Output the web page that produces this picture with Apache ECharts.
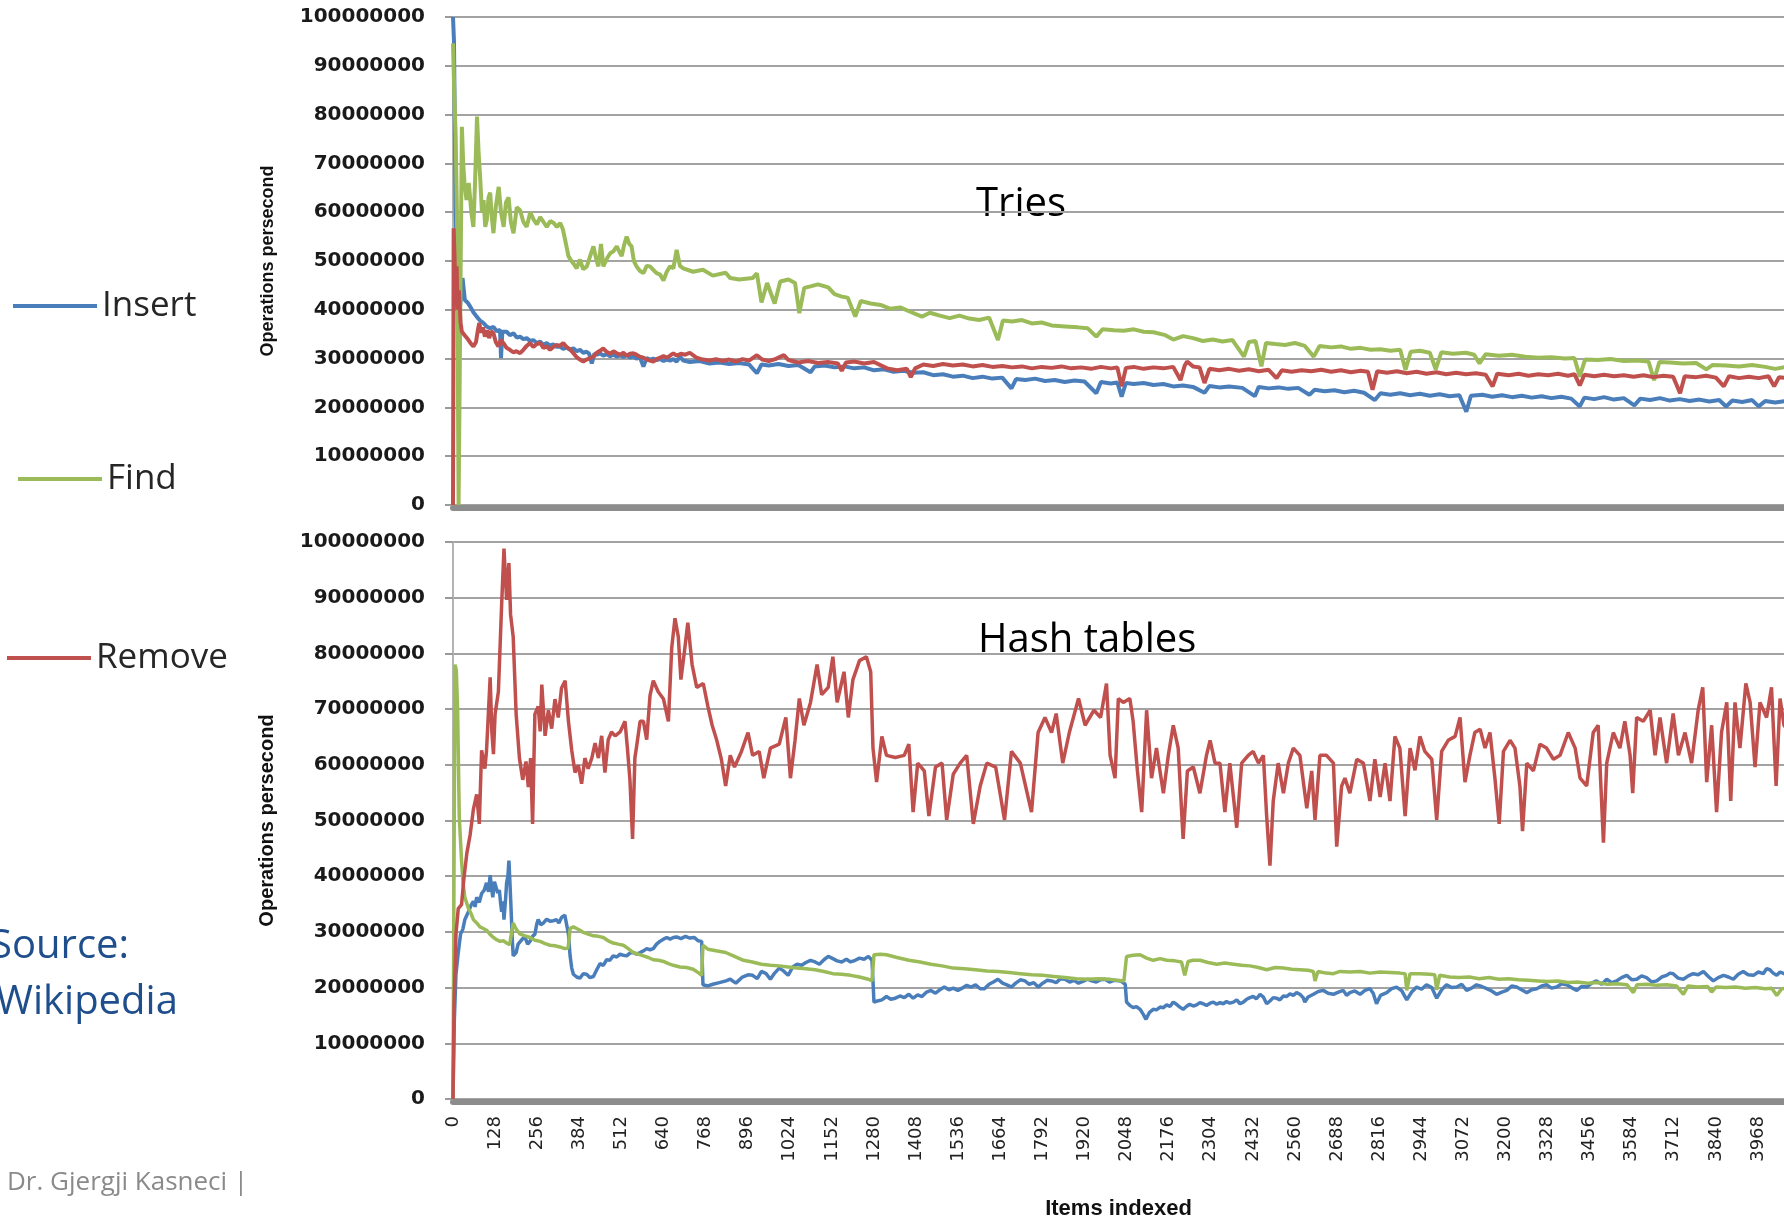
<!DOCTYPE html>
<html>
<head>
<meta charset="utf-8">
<title>Tries vs Hash tables</title>
<script src="https://cdn.jsdelivr.net/npm/echarts@6/dist/echarts.min.js"></script>
<style>
  html, body { margin: 0; padding: 0; background: #ffffff; }
  #chart { width: 1784px; height: 1221px; }
</style>
</head>
<body>
<div id="chart"></div>
<script>
// Operations per second, in millions, sampled at [items indexed, value]

const triesInsert = [[0,100],[3,95],[8,60],[14,44],[22,41],[29,46.5],[36,42],[44,41.5],[52,40.7],[62,39.5],[72,38.6],[82,37.8],[92,37.3],[102,36.6],[113,36.2],[123,36.5],[133,35.6],[143,35.9],[146,30.1],[150,35.5],[163,35.5],[173,34.8],[184,35.2],[194,34.3],[204,34.5],[214,34.0],[224,34.2],[234,33.6],[244,33.8],[255,33.2],[265,33.5],[275,32.8],[285,33.2],[295,32.6],[305,32.9],[315,32.4],[325,32.5],[335,32.0],[345,32.3],[356,31.8],[366,32.1],[376,31.5],[386,31.8],[396,31.2],[406,31.4],[414,31.0],[422,29.0],[430,31.0],[438,30.8],[447,31.1],[457,30.6],[468,30.9],[478,30.5],[488,30.8],[498,30.4],[508,30.7],[518,30.3],[528,30.8],[538,30.2],[548,30.5],[558,30.0],[568,30.3],[579,28.4],[589,30.1],[599,29.8],[609,30.0],[619,29.7],[630,29.9],[640,29.5],[650,29.8],[660,29.6],[670,29.9],[680,29.4],[690,30.4],[700,29.6],[720,29.3],[750,29.5],[780,29.0],[810,29.2],[840,28.9],[870,29.1],[900,28.8],[924,27.0],[938,28.8],[960,28.6],[990,28.9],[1020,28.5],[1050,28.7],[1087,27.2],[1100,28.4],[1130,28.6],[1160,28.2],[1190,28.4],[1220,28.0],[1250,28.2],[1280,27.6],[1310,27.8],[1340,27.3],[1370,27.5],[1400,27.1],[1430,27.2],[1460,26.6],[1490,26.8],[1520,26.3],[1550,26.5],[1580,26.0],[1610,26.3],[1640,25.9],[1670,26.1],[1698,23.9],[1712,25.8],[1740,25.6],[1770,25.9],[1800,25.4],[1830,25.6],[1860,25.2],[1890,25.5],[1920,25.3],[1956,22.9],[1970,25.2],[2000,24.9],[2020,25.1],[2033,22.2],[2046,25.0],[2070,24.8],[2100,25.0],[2130,24.6],[2160,24.8],[2190,24.3],[2220,24.5],[2250,24.2],[2285,23.0],[2300,24.4],[2330,24.1],[2360,24.3],[2400,24.0],[2438,22.3],[2450,24.2],[2480,23.9],[2510,24.1],[2540,23.8],[2570,24.0],[2604,22.6],[2620,23.6],[2650,23.3],[2680,23.5],[2710,23.1],[2740,23.4],[2770,23.0],[2803,21.5],[2820,22.9],[2850,22.6],[2880,22.9],[2910,22.5],[2940,22.8],[2970,22.4],[3000,22.7],[3030,22.3],[3060,22.5],[3081,19.1],[3095,22.4],[3130,22.6],[3160,22.2],[3190,22.5],[3220,22.1],[3250,22.4],[3280,22.0],[3310,22.3],[3340,21.9],[3370,22.2],[3400,21.8],[3426,20.2],[3440,22.0],[3470,21.7],[3500,22.1],[3530,21.6],[3560,21.9],[3592,20.4],[3610,21.8],[3640,21.5],[3670,21.9],[3700,21.4],[3730,21.7],[3760,21.3],[3790,21.6],[3820,21.2],[3850,21.5],[3871,20.2],[3890,21.4],[3920,21.1],[3950,21.5],[3970,20.2],[3990,21.3],[4020,21.0],[4060,21.4]];

const triesFind = [[0,94.6],[4,84],[8,76],[12,60],[17,0],[22,0],[27,77.5],[31,70],[35,66],[41,62.5],[48,66],[56,59.8],[62,57],[67,66],[73,79.6],[78,72],[83,66.6],[88,60],[93,62.5],[98,57],[103,58.5],[108,63],[113,64],[118,59],[123,55.7],[130,61],[139,65.2],[146,60],[154,57],[161,62],[169,63],[176,58],[184,55.7],[194,61],[204,60.4],[214,58],[224,57],[235,60],[245,58.5],[255,57.5],[265,59],[275,58],[285,57],[296,58.2],[306,57.8],[316,57],[326,57.8],[334,56.5],[341,54.3],[351,51],[358,50.2],[366,49.5],[376,48.5],[386,50.3],[396,48.3],[407,48.9],[417,51],[427,53],[435,50.5],[442,48.9],[450,53.5],[457,48.9],[468,50.5],[478,51.6],[488,52],[498,53],[505,52],[513,51],[520,53.2],[528,55],[536,53.5],[543,53],[550,50],[558,48.9],[568,48],[579,47.5],[589,49],[599,48.9],[609,48.2],[619,47.5],[630,47.2],[640,46],[650,47.8],[660,48.9],[670,48.5],[680,52.3],[690,49],[700,48.5],[730,47.8],[760,48.2],[790,47.0],[829,47.6],[843,46.5],[870,46.2],[911,46.5],[924,47.5],[938,41.5],[955,45.5],[978,41.3],[995,45.8],[1020,46.2],[1040,45.5],[1053,39.3],[1068,44.5],[1087,44.8],[1110,45.2],[1141,44.6],[1160,43.2],[1182,42.7],[1200,42.5],[1223,38.6],[1240,41.8],[1270,41.3],[1300,41.0],[1330,40.2],[1360,40.5],[1390,39.6],[1426,38.6],[1450,39.4],[1480,38.8],[1510,38.3],[1540,38.8],[1570,38.2],[1600,37.9],[1630,38.4],[1657,33.8],[1672,37.8],[1700,37.6],[1730,37.9],[1760,37.2],[1790,37.4],[1820,36.8],[1861,36.6],[1900,36.4],[1930,36.2],[1956,34.5],[1975,36.0],[2010,35.8],[2040,35.7],[2070,36.0],[2100,35.5],[2130,35.4],[2166,34.8],[2190,33.9],[2220,34.6],[2250,34.2],[2280,33.6],[2310,33.9],[2340,33.5],[2370,33.8],[2405,30.4],[2420,33.4],[2440,33.6],[2458,28.4],[2472,33.2],[2500,33.0],[2530,32.8],[2560,33.2],[2590,32.6],[2617,30.4],[2635,32.6],[2670,32.3],[2700,32.5],[2730,32.0],[2760,32.2],[2790,31.8],[2820,31.9],[2850,31.6],[2880,31.8],[2896,27.7],[2912,31.4],[2940,31.6],[2970,31.2],[2988,27.8],[3005,31.3],[3040,31.0],[3080,31.2],[3105,30.8],[3121,29.0],[3140,30.9],[3180,30.6],[3220,30.8],[3260,30.4],[3300,30.2],[3340,30.3],[3380,30.0],[3410,30.1],[3426,26.3],[3442,29.8],[3480,29.7],[3520,29.9],[3560,29.5],[3600,29.6],[3635,29.4],[3652,25.6],[3668,29.3],[3700,29.2],[3740,29.0],[3780,29.1],[3811,27.8],[3830,28.7],[3870,28.6],[3910,28.4],[3950,28.7],[3990,28.3],[4020,27.9],[4060,28.4]];

const triesRemove = [[0,0],[2,56.7],[5,50],[8,42],[11,48.9],[14,40],[18,44],[23,37.3],[27,35.5],[31,35.9],[39,34.5],[47,33.8],[55,33.0],[62,32.5],[70,33.4],[76,36],[80,37.3],[85,35.3],[91,36.4],[97,34.5],[104,35.8],[110,34.2],[116,35.6],[123,35.2],[130,33.4],[138,32.5],[145,33.8],[153,33.2],[163,32.2],[173,31.8],[183,31.3],[193,31.5],[204,31.1],[214,31.8],[224,32.6],[234,33.2],[244,32.4],[255,33.0],[265,33.2],[275,32.2],[285,32.5],[295,31.8],[305,32.4],[315,32.8],[325,32.6],[335,33.2],[345,32.4],[356,31.9],[366,31.1],[376,30.3],[386,29.8],[396,29.4],[406,29.8],[417,30.1],[427,30.4],[437,31.2],[447,31.6],[457,32.1],[467,31.4],[478,31.0],[488,31.5],[498,31.1],[508,30.8],[518,31.2],[528,30.6],[538,31.0],[548,31.1],[558,30.8],[568,30.4],[579,30.2],[589,29.8],[599,29.6],[609,29.4],[619,29.9],[630,30.2],[640,30.5],[650,30.2],[660,30.6],[670,31.1],[680,30.6],[693,31.0],[706,30.8],[720,31.2],[740,30.2],[760,29.8],[780,29.6],[800,29.9],[820,29.5],[840,29.8],[860,29.4],[880,29.9],[900,29.6],[924,30.7],[940,29.8],[960,29.5],[980,29.9],[1006,30.7],[1020,29.7],[1050,29.2],[1080,29.5],[1110,29.1],[1140,29.3],[1170,29.0],[1182,27.5],[1195,29.2],[1220,29.4],[1250,29.0],[1280,29.3],[1320,28.0],[1350,27.6],[1380,27.9],[1392,26.2],[1405,28.0],[1430,28.8],[1460,28.5],[1490,28.9],[1520,28.6],[1550,28.8],[1580,28.4],[1610,28.7],[1640,28.3],[1670,28.5],[1700,28.2],[1730,28.4],[1760,28.0],[1790,28.3],[1820,28.1],[1850,28.4],[1880,28.0],[1910,28.2],[1940,27.9],[1970,28.3],[2000,28.0],[2020,28.2],[2033,24.3],[2046,28.1],[2070,28.3],[2100,27.9],[2130,28.2],[2160,28.0],[2190,28.3],[2212,25.6],[2225,28.6],[2232,29.4],[2250,28.4],[2270,28.2],[2285,25.0],[2300,27.9],[2330,27.6],[2360,27.9],[2390,27.5],[2420,27.8],[2450,27.4],[2480,27.7],[2504,26.0],[2520,27.6],[2550,27.3],[2580,27.6],[2610,27.4],[2640,27.7],[2670,27.3],[2700,27.6],[2730,27.2],[2760,27.5],[2782,27.3],[2796,23.6],[2810,27.4],[2840,27.1],[2870,27.4],[2900,27.0],[2930,27.3],[2960,26.9],[2990,27.2],[3020,26.8],[3050,27.1],[3080,26.8],[3110,27.0],[3140,26.7],[3161,24.3],[3175,26.9],[3210,26.6],[3240,26.9],[3270,26.5],[3300,26.8],[3330,26.6],[3360,26.9],[3390,26.5],[3410,26.8],[3426,24.5],[3440,26.7],[3470,26.4],[3500,26.7],[3530,26.4],[3560,26.6],[3590,26.3],[3620,26.6],[3650,26.2],[3680,26.5],[3710,26.3],[3731,22.9],[3745,26.4],[3780,26.2],[3810,26.5],[3840,26.1],[3864,24.3],[3880,26.4],[3910,26.0],[3940,26.3],[3970,26.0],[4000,26.4],[4017,24.3],[4032,26.2],[4060,26.0]];

const hashInsert = [[0,0],[4,14],[9,22.4],[16,26.3],[23,29.6],[30,30.5],[36,32.2],[42,33.0],[47,33.6],[55,34.8],[62,35.5],[67,34.5],[72,36.2],[80,35.3],[87,36.9],[95,37.5],[102,38.8],[108,37.2],[113,40.2],[117,38.0],[121,36.2],[126,39.0],[131,38.8],[136,37.0],[141,37.5],[145,35.0],[148,33.6],[152,35.5],[155,32.2],[160,36.0],[163,38.8],[167,40.0],[170,42.8],[173,39.0],[176,34.9],[180,29.0],[183,25.7],[192,26.3],[198,27.8],[204,27.6],[212,28.8],[219,29.0],[227,27.8],[234,28.3],[242,29.2],[249,29.6],[255,31.5],[259,32.2],[267,31.3],[275,31.6],[285,32.3],[295,31.9],[305,32.0],[315,32.2],[322,31.6],[330,32.6],[340,33.0],[346,33.2],[351,29.6],[356,25.7],[361,23.5],[366,22.4],[376,21.9],[386,21.7],[396,22.5],[406,22.4],[416,21.8],[427,22.0],[437,23.2],[447,24.3],[457,24.0],[467,25.0],[477,24.9],[487,25.7],[498,25.5],[508,26.0],[518,25.8],[528,25.7],[538,26.2],[548,26.3],[558,26.0],[569,26.3],[579,26.6],[589,27.0],[599,26.8],[609,27.0],[619,27.8],[629,28.3],[640,28.7],[650,29.0],[660,28.7],[670,29.0],[680,29.1],[693,28.8],[707,29.2],[720,28.9],[734,29.0],[745,28.4],[756,28.3],[760,20.5],[775,20.3],[790,20.6],[810,20.9],[830,21.2],[843,21.5],[860,20.8],[880,21.9],[897,22.3],[911,22.2],[925,21.6],[938,22.9],[952,22.5],[965,21.5],[978,22.6],[992,23.5],[1005,23.0],[1019,22.2],[1033,23.7],[1046,24.2],[1060,24.0],[1073,24.5],[1087,24.9],[1101,24.6],[1114,24.2],[1128,25.0],[1141,25.6],[1155,25.2],[1168,24.8],[1182,24.6],[1196,25.1],[1209,24.6],[1223,24.9],[1236,25.3],[1250,25.1],[1263,25.6],[1274,24.9],[1280,17.4],[1290,17.6],[1304,17.8],[1318,18.4],[1331,17.9],[1345,18.1],[1359,18.5],[1372,18.2],[1386,18.8],[1399,18.1],[1413,18.7],[1426,18.4],[1440,19.2],[1453,19.5],[1467,19.0],[1480,19.6],[1494,20.1],[1508,19.6],[1521,19.9],[1535,19.5],[1548,19.9],[1562,20.4],[1576,20.1],[1589,20.5],[1603,19.8],[1616,19.8],[1630,20.6],[1643,21.0],[1657,21.5],[1671,20.8],[1684,20.5],[1698,20.1],[1711,20.8],[1725,21.4],[1739,21.2],[1752,20.6],[1766,20.9],[1779,20.1],[1793,20.8],[1807,21.3],[1820,21.2],[1834,20.9],[1847,21.6],[1861,21.5],[1875,21.0],[1888,21.3],[1902,20.8],[1915,21.1],[1929,21.5],[1942,21.2],[1956,21.0],[1969,21.4],[1983,21.5],[1996,21.0],[2010,21.3],[2030,21.2],[2044,20.6],[2048,17.4],[2058,16.8],[2068,16.4],[2078,16.6],[2089,16.1],[2099,15.2],[2107,14.3],[2117,15.5],[2129,16.1],[2139,16.0],[2150,16.5],[2160,16.4],[2170,16.9],[2180,16.6],[2190,17.4],[2200,17.0],[2210,16.5],[2220,16.1],[2230,16.6],[2240,17.0],[2251,16.7],[2261,16.9],[2271,17.3],[2281,17.1],[2291,16.8],[2302,17.2],[2312,17.4],[2322,17.0],[2332,17.3],[2342,17.1],[2352,17.5],[2362,17.2],[2373,17.4],[2383,17.8],[2393,17.1],[2403,17.4],[2413,17.9],[2423,18.2],[2433,18.4],[2443,18.0],[2454,18.8],[2464,18.3],[2474,17.1],[2484,17.6],[2494,18.2],[2504,18.1],[2514,17.8],[2525,18.5],[2535,18.4],[2545,18.9],[2555,18.6],[2565,19.1],[2575,18.8],[2585,18.2],[2590,17.4],[2600,18.3],[2616,18.8],[2631,19.3],[2646,19.5],[2661,19.0],[2677,18.8],[2692,19.2],[2707,19.5],[2717,18.6],[2727,19.1],[2742,19.4],[2758,18.8],[2773,19.5],[2788,19.8],[2798,19.0],[2808,17.1],[2820,18.6],[2839,19.1],[2854,19.8],[2869,20.1],[2885,19.4],[2900,17.8],[2915,19.2],[2930,20.1],[2945,19.7],[2960,20.5],[2976,20.0],[2991,18.1],[3006,19.6],[3021,20.5],[3036,20.0],[3052,20.1],[3067,20.6],[3082,19.5],[3097,19.9],[3112,20.5],[3128,20.2],[3143,19.8],[3158,19.4],[3173,18.8],[3189,19.2],[3204,19.5],[3219,20.3],[3234,20.1],[3249,19.6],[3265,19.1],[3280,19.6],[3295,19.8],[3310,20.3],[3325,20.5],[3340,19.9],[3356,20.1],[3371,20.7],[3386,20.5],[3401,20.0],[3417,19.5],[3432,20.2],[3447,20.1],[3462,20.8],[3477,21.2],[3493,20.6],[3508,21.5],[3523,20.9],[3538,21.2],[3553,21.8],[3569,22.2],[3584,21.4],[3599,21.5],[3614,22.1],[3629,21.8],[3645,21.0],[3660,21.2],[3675,21.9],[3690,22.2],[3700,22.6],[3710,22.5],[3725,21.7],[3741,21.5],[3756,22.1],[3771,22.5],[3786,22.3],[3802,22.9],[3817,22.0],[3832,21.2],[3847,21.8],[3863,22.2],[3878,21.9],[3893,21.5],[3908,22.4],[3923,22.9],[3938,22.3],[3954,22.2],[3969,22.8],[3984,22.5],[3994,23.4],[4004,23.2],[4014,22.6],[4025,22.2],[4035,22.8],[4047,22.5],[4060,22.6]];

const hashFind = [[0,0],[3,40],[6,78],[10,77],[14,70],[16,62.6],[19,50.7],[23,50.5],[26,42.8],[31,38.5],[36,36.2],[47,34.2],[55,33.3],[62,32.2],[72,31.6],[82,30.9],[92,30.6],[102,30.3],[112,29.6],[123,29.0],[133,28.6],[143,28.3],[153,28.4],[163,28.0],[172,27.7],[178,27.6],[183,31.6],[193,30.4],[204,29.6],[219,29.3],[234,29.0],[249,28.5],[265,28.3],[280,27.9],[295,27.6],[310,27.5],[325,27.3],[340,27.0],[350,27.1],[356,30.6],[366,30.9],[376,30.6],[386,30.3],[396,29.9],[411,29.6],[427,29.3],[442,29.2],[457,29.0],[472,28.4],[487,28.0],[502,27.8],[518,27.6],[533,27.0],[548,26.3],[563,26.0],[579,25.7],[594,25.4],[609,25.0],[625,24.9],[640,24.7],[655,24.3],[670,24.0],[690,23.7],[710,23.6],[730,23.3],[748,22.6],[756,22.2],[760,27.6],[775,26.9],[800,26.6],[829,26.3],[856,25.6],[883,24.9],[910,24.6],[938,24.2],[965,24.0],[992,23.9],[1019,23.7],[1046,23.5],[1073,23.4],[1101,23.2],[1128,22.9],[1155,22.5],[1182,22.4],[1209,22.2],[1236,21.9],[1263,21.5],[1274,21.2],[1280,25.9],[1300,26.0],[1318,25.9],[1350,25.4],[1386,24.9],[1420,24.6],[1453,24.2],[1487,23.9],[1521,23.5],[1555,23.4],[1589,23.2],[1623,23.0],[1657,22.9],[1691,22.7],[1725,22.5],[1759,22.3],[1793,22.2],[1827,22.0],[1861,21.8],[1895,21.6],[1929,21.5],[1962,21.6],[1996,21.5],[2020,21.3],[2040,21.2],[2048,25.6],[2068,25.8],[2089,25.9],[2109,25.3],[2129,24.9],[2150,25.2],[2170,24.9],[2195,24.8],[2215,24.6],[2225,22.2],[2235,24.7],[2250,24.9],[2271,24.9],[2296,24.5],[2322,24.2],[2347,24.4],[2373,24.2],[2398,24.0],[2423,23.9],[2449,23.6],[2474,23.2],[2500,23.6],[2525,23.5],[2550,23.3],[2575,23.2],[2600,23.1],[2616,22.9],[2621,21.2],[2630,22.9],[2655,22.6],[2677,22.5],[2697,22.9],[2727,22.8],[2758,22.9],[2788,22.6],[2819,22.8],[2849,22.7],[2879,22.6],[2895,22.5],[2900,19.5],[2910,22.5],[2940,22.5],[2970,22.4],[2985,22.3],[2991,19.6],[3000,22.2],[3030,21.9],[3060,21.8],[3090,21.9],[3120,21.6],[3150,21.8],[3180,21.5],[3210,21.6],[3240,21.4],[3270,21.3],[3300,21.2],[3330,21.1],[3360,21.2],[3390,20.9],[3420,21.0],[3450,20.8],[3480,20.9],[3510,20.6],[3540,20.7],[3570,20.5],[3589,19.1],[3600,20.5],[3630,20.6],[3660,20.4],[3690,20.5],[3720,20.3],[3741,18.8],[3755,20.3],[3785,20.1],[3815,20.2],[3827,19.2],[3840,20.1],[3870,20.0],[3900,20.1],[3930,19.9],[3960,20.0],[3990,19.8],[4010,19.9],[4025,18.6],[4040,19.8],[4060,19.9]];

const hashRemove = [[0,0],[3,16.4],[9,29.6],[16,34.2],[26,34.9],[33,39.5],[42,44.1],[52,47.4],[62,52],[72,54.7],[80,49.4],[87,62.6],[97,59.3],[102,62.6],[113,75.7],[118,66],[123,61.9],[128,69.1],[138,73.1],[148,88.9],[155,98.8],[163,89.6],[170,96.2],[175,87],[183,83],[192,69.1],[202,61.2],[212,57.3],[222,60.6],[229,56],[236,61.2],[242,49.4],[249,69.1],[259,70.5],[265,66],[270,74.4],[280,65.2],[290,69.8],[300,66.5],[310,71.8],[320,68.5],[330,73.8],[341,75.1],[351,67.8],[361,62.6],[371,58.6],[381,59.9],[391,56.6],[401,61.2],[411,59.3],[422,61.2],[432,63.9],[442,61.2],[452,65.2],[462,58.6],[472,64.5],[482,65.9],[493,65.2],[508,65.9],[523,67.8],[530,63.2],[538,57.3],[546,46.7],[553,61.2],[558,63.2],[569,67.8],[579,67.8],[589,64.5],[599,72.4],[609,75.1],[624,73.1],[640,71.8],[655,67.8],[665,81],[675,86.3],[685,83],[693,75.3],[703,80],[714,85.5],[727,78],[741,73.9],[761,74.6],[775,70.5],[788,67.1],[802,64.4],[816,61],[829,56.2],[843,61.7],[856,59.6],[877,62.4],[897,65.8],[911,61.7],[931,62.4],[945,57.6],[965,63],[992,63.7],[1012,68.5],[1026,57.6],[1040,64.4],[1053,71.9],[1067,67.1],[1087,71.2],[1107,78],[1121,72.6],[1141,73.9],[1155,79.4],[1168,71.2],[1189,76.7],[1202,68.5],[1216,75.3],[1236,78.7],[1257,79.4],[1270,76.7],[1277,63],[1288,56.9],[1304,65.1],[1318,61.7],[1345,61.3],[1372,61.7],[1386,63.7],[1399,51.5],[1413,60.3],[1433,58.9],[1447,50.8],[1467,59.6],[1487,60.3],[1501,50.1],[1521,58.3],[1542,60.3],[1562,61.7],[1582,49.4],[1603,56.2],[1623,60.3],[1650,59.6],[1677,50.1],[1698,62.4],[1725,60.3],[1759,51.5],[1779,65.8],[1800,68.5],[1820,65.8],[1834,69.2],[1854,60.3],[1874,65.8],[1902,71.9],[1922,67.1],[1949,69.8],[1969,68.5],[1987,74.6],[1998,61.7],[2013,57.6],[2023,71.9],[2038,71.2],[2058,71.9],[2068,67.8],[2081,58.9],[2094,51.5],[2109,69.8],[2124,57.6],[2139,63],[2160,54.9],[2175,61.7],[2190,67.1],[2205,63],[2220,46.7],[2233,58.9],[2251,59.6],[2271,54.9],[2291,61.7],[2302,64.4],[2317,60.3],[2332,60.3],[2347,51.5],[2362,60.3],[2383,48.7],[2398,60.3],[2418,61.7],[2433,62.4],[2449,60.3],[2464,61.7],[2474,50.8],[2484,41.9],[2494,53.5],[2509,60.3],[2525,54.9],[2540,60.3],[2555,63],[2575,61.7],[2596,52.2],[2611,58.9],[2621,50.1],[2636,61.7],[2656,61.7],[2677,60.3],[2687,45.3],[2702,56.2],[2712,57.6],[2727,54.9],[2748,61],[2768,60.3],[2788,53.5],[2803,61],[2819,54.2],[2834,60.3],[2849,53.5],[2864,65.1],[2879,63],[2895,50.8],[2910,63],[2925,59],[2940,65.1],[2955,62.4],[2976,61],[2991,50.1],[3006,62.4],[3026,64.4],[3047,65.1],[3062,68.5],[3077,56.9],[3092,61.7],[3107,65.8],[3123,66.4],[3138,63],[3153,65.8],[3168,57.6],[3181,49.4],[3194,62.4],[3214,64.4],[3229,63],[3244,56.2],[3252,48.1],[3265,60.3],[3285,58.9],[3305,63.7],[3325,63],[3346,61],[3366,61.7],[3391,65.8],[3412,63],[3427,57.6],[3447,56.2],[3467,65.8],[3482,67.1],[3498,46],[3508,60.3],[3528,65.8],[3548,63],[3563,67.8],[3579,61.7],[3587,54.9],[3599,68.5],[3619,67.8],[3640,69.8],[3655,61.7],[3670,68.5],[3690,60.3],[3710,69.2],[3726,61.7],[3746,65.8],[3766,60.3],[3786,69.8],[3800,73.9],[3812,56.9],[3827,67.1],[3842,51.5],[3857,65.8],[3873,71.2],[3885,53.5],[3898,71.2],[3913,63],[3931,74.6],[3944,71.2],[3959,59.6],[3974,71.2],[3994,68.5],[4009,73.9],[4023,56.2],[4035,71.9],[4047,67.1],[4060,66]];

const seriesNames = ['Insert', 'Find', 'Remove'];
const seriesColors = ['#4a7ebb', '#9bbb59', '#c0504d'];
const yTicks = { min: 0, max: 100000000, step: 10000000 };
const xTicks = { min: 0, max: 4047, step: 128 };

const toSeriesData = (pairs) => pairs.map(([x, m]) => [x, m * 1e6]);

const chart = echarts.init(document.getElementById('chart'), null, { renderer: 'canvas' });

const yAxisCommon = (gridIndex, nameSize) => ({
  gridIndex,
  type: 'value',
  min: yTicks.min,
  max: yTicks.max,
  interval: yTicks.step,
  name: 'Operations persecond',
  nameLocation: 'middle',
  nameGap: 176,
  nameTextStyle: { fontFamily: 'Liberation Sans', fontWeight: 'bold', fontSize: nameSize, color: '#111' },
  axisLine: { show: true, lineStyle: { color: '#b4b4b4', width: 2 } },
  axisTick: { show: true, inside: false, length: 8, lineStyle: { color: '#9a9a9a', width: 2 } },
  axisLabel: {
    margin: 28,
    fontFamily: 'DejaVu Sans',
    fontWeight: 'bold',
    fontSize: 20,
    color: '#1a1a1a',
    formatter: (v) => String(v)
  },
  splitLine: { show: true, lineStyle: { color: '#a3a3a3', width: 2 } }
});

const xAxisCommon = (gridIndex, withLabels) => ({
  gridIndex,
  type: 'value',
  min: xTicks.min,
  max: xTicks.max,
  interval: xTicks.step,
  offset: 3,
  axisLine: { show: true, onZero: false, lineStyle: { color: '#8c8c8c', width: 6 } },
  axisTick: { show: false },
  splitLine: { show: false },
  axisLabel: withLabels ? {
    show: true,
    rotate: 90,
    margin: 14,
    fontFamily: 'DejaVu Sans',
    fontSize: 18,
    color: '#222',
    showMaxLabel: false,
    formatter: (v) => String(v)
  } : { show: false },
  name: withLabels ? 'Items indexed' : '',
  nameLocation: 'middle',
  nameGap: 96,
  nameTextStyle: { fontFamily: 'Liberation Sans', fontWeight: 'bold', fontSize: 22, color: '#111' }
});

const lineSeries = (name, color, pairs, axisIndex, width) => ({
  name,
  type: 'line',
  xAxisIndex: axisIndex,
  yAxisIndex: axisIndex,
  data: toSeriesData(pairs),
  showSymbol: false,
  symbol: 'none',
  clip: true,
  color,
  itemStyle: { color },
  lineStyle: { color, width },
  emphasis: { disabled: true }
});

const legendCommon = {
  orient: 'horizontal',
  padding: 0,
  icon: 'rect',
  itemWidth: 84,
  itemHeight: 4,
  selectedMode: false,
  textStyle: { fontFamily: 'Open Sans', fontSize: 35, color: '#262626', lineHeight: 40 }
};

const slideText = (text, x, y, size, color) => ({
  type: 'text',
  left: x,
  top: y - size * 0.4,
  style: { text, fill: color, font: `${size}px "Open Sans"` }
});

chart.setOption({
  animation: false,
  backgroundColor: '#ffffff',
  grid: [
    { left: 453, top: 17, right: 0, height: 488 },
    { left: 453, top: 542, right: 0, height: 562 }
  ],
  xAxis: [xAxisCommon(0, false), xAxisCommon(1, true)],
  yAxis: [yAxisCommon(0, 18), yAxisCommon(1, 20)],
  legend: [
    Object.assign({ data: [seriesNames[0]], left: 13, top: 286 }, legendCommon),
    Object.assign({ data: [seriesNames[1]], left: 18, top: 459 }, legendCommon),
    Object.assign({ data: [seriesNames[2]], left: 7, top: 638 }, legendCommon)
  ],
  graphic: [
    slideText('Tries', 976, 201, 40, '#000000'),
    slideText('Hash tables', 978, 637, 40, '#000000'),
    slideText('Source:', -10, 943, 40, '#1f4e8c'),
    slideText('Wikipedia', -4, 999, 40, '#1f4e8c'),
    slideText('Dr. Gjergji Kasneci |', 7, 1180, 26, '#8a8a8a')
  ],
  series: [
    lineSeries(seriesNames[0], seriesColors[0], triesInsert, 0, 4),
    lineSeries(seriesNames[1], seriesColors[1], triesFind, 0, 4),
    lineSeries(seriesNames[2], seriesColors[2], triesRemove, 0, 4),
    lineSeries(seriesNames[0], seriesColors[0], hashInsert, 1, 3.5),
    lineSeries(seriesNames[1], seriesColors[1], hashFind, 1, 3.5),
    lineSeries(seriesNames[2], seriesColors[2], hashRemove, 1, 3.5)
  ]
});
</script>
</body>
</html>
